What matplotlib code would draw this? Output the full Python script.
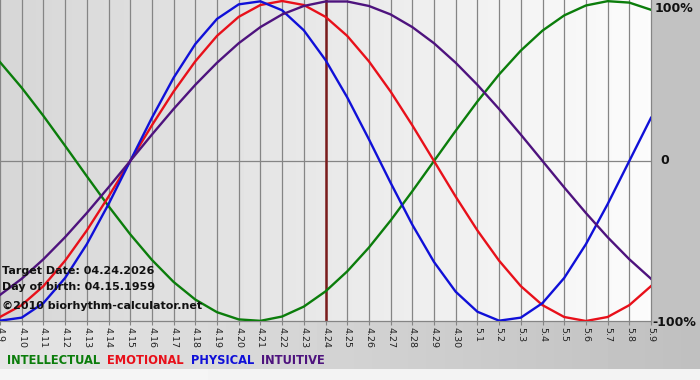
import numpy as np
import matplotlib
matplotlib.use("Agg")
import matplotlib.pyplot as plt

# --- data: one value per day, 4.9 .. 5.9 ---
dates = ["4.9", "4.10", "4.11", "4.12", "4.13", "4.14", "4.15", "4.16", "4.17",
         "4.18", "4.19", "4.20", "4.21", "4.22", "4.23", "4.24", "4.25", "4.26",
         "4.27", "4.28", "4.29", "4.30", "5.1", "5.2", "5.3", "5.4", "5.5",
         "5.6", "5.7", "5.8", "5.9"]

intellectual = [0.618, 0.458, 0.282, 0.095, -0.095, -0.282, -0.458, -0.618,
                -0.756, -0.866, -0.945, -0.990, -0.999, -0.972, -0.910, -0.815,
                -0.690, -0.541, -0.372, -0.189, 0.0, 0.189, 0.372, 0.541,
                0.690, 0.815, 0.910, 0.972, 0.999, 0.990, 0.945]
emotional = [-0.975, -0.901, -0.782, -0.623, -0.434, -0.223, 0.0, 0.223,
             0.434, 0.623, 0.782, 0.901, 0.975, 1.0, 0.975, 0.901, 0.782,
             0.623, 0.434, 0.223, 0.0, -0.223, -0.434, -0.623, -0.782,
             -0.901, -0.975, -1.0, -0.975, -0.901, -0.782]
physical = [-0.998, -0.979, -0.888, -0.731, -0.520, -0.270, 0.0, 0.270,
            0.520, 0.731, 0.888, 0.979, 0.998, 0.942, 0.817, 0.631, 0.398,
            0.136, -0.136, -0.398, -0.631, -0.817, -0.942, -0.998, -0.979,
            -0.888, -0.731, -0.520, -0.270, 0.0, 0.270]
intuitive = [-0.837, -0.736, -0.614, -0.476, -0.325, -0.165, 0.0, 0.165,
             0.325, 0.476, 0.614, 0.736, 0.837, 0.916, 0.969, 0.997, 0.997,
             0.969, 0.916, 0.837, 0.736, 0.614, 0.476, 0.325, 0.165, 0.0,
             -0.165, -0.325, -0.476, -0.614, -0.736]

target_idx = dates.index("4.24")
target_text = "Target Date: 04.24.2026"
birth_text = "Day of birth: 04.15.1959"
copy_text = "\u00a92010 biorhythm-calculator.net"

series = [("INTELLECTUAL", intellectual, "#0b7d0b"),
          ("EMOTIONAL", emotional, "#e8101a"),
          ("PHYSICAL", physical, "#1010d8"),
          ("INTUITIVE", intuitive, "#4e137e")]

W, H = 700, 380
fig = plt.figure(figsize=(7, 3.8), dpi=100)

# --- figure background: grey frame, lighter bottom strip ---
bg = fig.add_axes([0, 0, 1, 1])
g = np.linspace(0.90, 0.75, W)
img = np.tile(g, (H, 1))
img[369:, :] = np.linspace(0.96, 0.95, W)
img[:321, 651:] = 0.76
bg.imshow(img, cmap="gray", vmin=0, vmax=1, aspect="auto",
          extent=[0, W, H, 0], interpolation="bilinear")
bg.set_axis_off()

# --- plot area ---
ax = fig.add_axes([0, 1 - 321 / H, 651 / W, 321 / H])
ax.set_xlim(0, 30)
ax.set_ylim(-1.0, 1.00625)
grad = np.linspace(0.84, 0.985, 200)[None, :]
ax.imshow(grad, cmap="gray", vmin=0, vmax=1, aspect="auto",
          extent=[0, 30, -1.0, 1.00625], zorder=0)

x = np.arange(len(dates))
for xi in x:
    ax.axvline(xi, color="#858585", lw=0.9, zorder=1, clip_on=False)
ax.axhline(0, color="#858585", lw=0.9, zorder=1)

ax.axvline(target_idx, color="#7a1c1c", lw=1.8, zorder=2)

for name, vals, col in series:
    ax.plot(x, vals, color=col, lw=1.7, zorder=3, solid_joinstyle="round")

for s in ["top", "left", "right"]:
    ax.spines[s].set_visible(False)
ax.spines["bottom"].set_color("#858585")
ax.spines["bottom"].set_linewidth(0.9)

ax.set_xticks(x)
ax.set_xticklabels(dates, rotation=270, fontsize=6.8, family="DejaVu Sans",
                   color="#222222")
ax.tick_params(axis="x", length=3, color="#858585", pad=1.5)
ax.set_yticks([])

# --- texts ---
def px(xp, yp):
    return xp / W, 1 - yp / H

tb = dict(fontsize=8.0, fontweight="bold", color="#111111", va="center")
fig.text(*px(2, 271), target_text, **tb)
fig.text(*px(2, 287), birth_text, **tb)
fig.text(*px(2, 306), copy_text, **tb)

rb = dict(fontsize=9, fontweight="bold", color="#111111", va="center")
fig.text(*px(655, 8), "100%", **rb)
fig.text(*px(660, 161), "0", **rb)
fig.text(*px(652, 322), "-100%", **rb)

lx = 7
for name, vals, col in series:
    t = fig.text(*px(lx, 361), name, fontsize=8.3, fontweight="bold",
                 color=col, va="center")
    fig.canvas.draw()
    bb = t.get_window_extent()
    lx = bb.x1 + 7

fig.savefig("out.png", dpi=100)
